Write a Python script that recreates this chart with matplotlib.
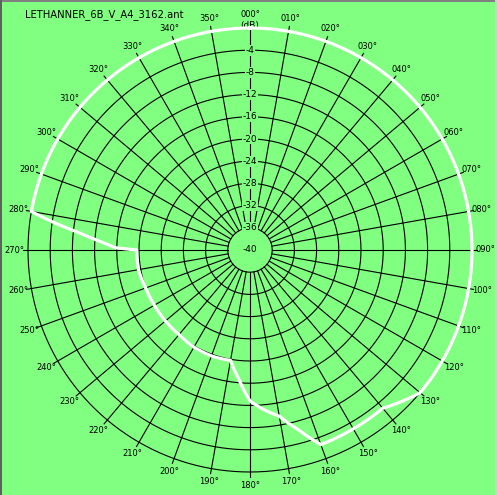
import numpy as np
import matplotlib
matplotlib.use('Agg')
import matplotlib.pyplot as plt
from matplotlib.patches import Rectangle

# pattern (degrees clockwise from north, dB)
angles = [0, 10, 20, 30, 40, 50, 60, 70, 80, 90, 100, 110, 120, 130,
          135, 140, 150, 160, 165, 170, 175, 180, 185, 190, 200, 210,
          220, 230, 240, 250, 260, 270, 271, 272, 274, 276, 278, 280,
          290, 300, 310, 320, 330, 340, 350, 360]
gain_db = [0, 0, 0, 0, 0, 0, 0, 0, 0, 0, 0, 0, 0, 0,
           -1.4, -2.8, -2.8, -2.7, -6.5, -9.6, -11.1, -12.8, -16.7, -19.8, -19.7, -19.8,
           -20.1, -20.1, -20.1, -20.0, -19.6, -19.6, -15.7, -14.6, -11.9, -8.6, -4.3, 0,
           0, 0, 0, 0, 0, 0, 0, 0]

ring_levels = [-36, -32, -28, -24, -20, -16, -12, -8, -4, 0]
spoke_angles = list(range(0, 360, 10))
title = 'LETHANNER_6B_V_A4_3162.ant'

bg = '#80ff80'
W, H = 497, 495
cx, cy = 250, 250          # centre in pixels (from top-left)
R = 222.0                  # radius of the 0 dB ring in pixels
rmax = 1.2                 # axes extends a little beyond 0 dB
Rax = R * (rmax + 40) / 40

fig = plt.figure(figsize=(W / 100, H / 100), dpi=100, facecolor=bg)
ax = fig.add_axes([(cx - Rax) / W, (H - cy - Rax) / H, 2 * Rax / W, 2 * Rax / H],
                  projection='polar')
ax.set_facecolor(bg)
ax.patch.set_alpha(0)
ax.set_theta_zero_location('N')
ax.set_theta_direction(-1)
ax.set_rlim(-40, rmax)
ax.grid(False)
ax.set_xticks([])
ax.set_yticks([])
ax.spines['polar'].set_visible(False)

full = np.linspace(0, 2 * np.pi, 361)
for lv in ring_levels:
    ax.plot(full, np.full_like(full, lv), color='black', lw=0.8, zorder=2)

for a in spoke_angles:
    t = np.deg2rad(a)
    ax.plot([t, t], [-36, 0.9], color='black', lw=0.8, zorder=2)
    lab = '%03d°' % a
    ax.text(t, 2.4, lab, fontsize=6, ha='center', va='center',
            clip_on=False, zorder=5)

# dB labels along the 0 degree spoke
for lv in ring_levels[:-1]:
    ax.text(0, lv, str(lv), fontsize=6.5, ha='center', va='center', zorder=4,
            bbox=dict(boxstyle='square,pad=0.1', fc=bg, ec='none'))
ax.text(0, -40, '-40', fontsize=6.5, ha='center', va='center', zorder=4)
ax.text(0, 0.4, '(dB)', fontsize=6.5, ha='center', va='center', zorder=4)

line, = ax.plot(np.deg2rad(angles), gain_db, color='white', lw=2.3, zorder=6,
                solid_joinstyle='round', clip_on=False)
# let the polar transform bend the segments into arcs
line.get_path()._interpolation_steps = 40

fig.text(25 / W, 1 - 15 / H, title, fontsize=7.2, ha='left', va='center')

# window frame
fig.patches.append(Rectangle((0, 1 - 2 / H), 1, 2 / H, transform=fig.transFigure,
                             fc='#808080', ec='none'))
fig.patches.append(Rectangle((0, 0), 2 / W, 1, transform=fig.transFigure,
                             fc='#606060', ec='none'))
fig.patches.append(Rectangle((1 - 2 / W, 0), 2 / W, 1, transform=fig.transFigure,
                             fc='#d4d0c8', ec='none'))

fig.savefig('out.png', dpi=100, facecolor=bg)
